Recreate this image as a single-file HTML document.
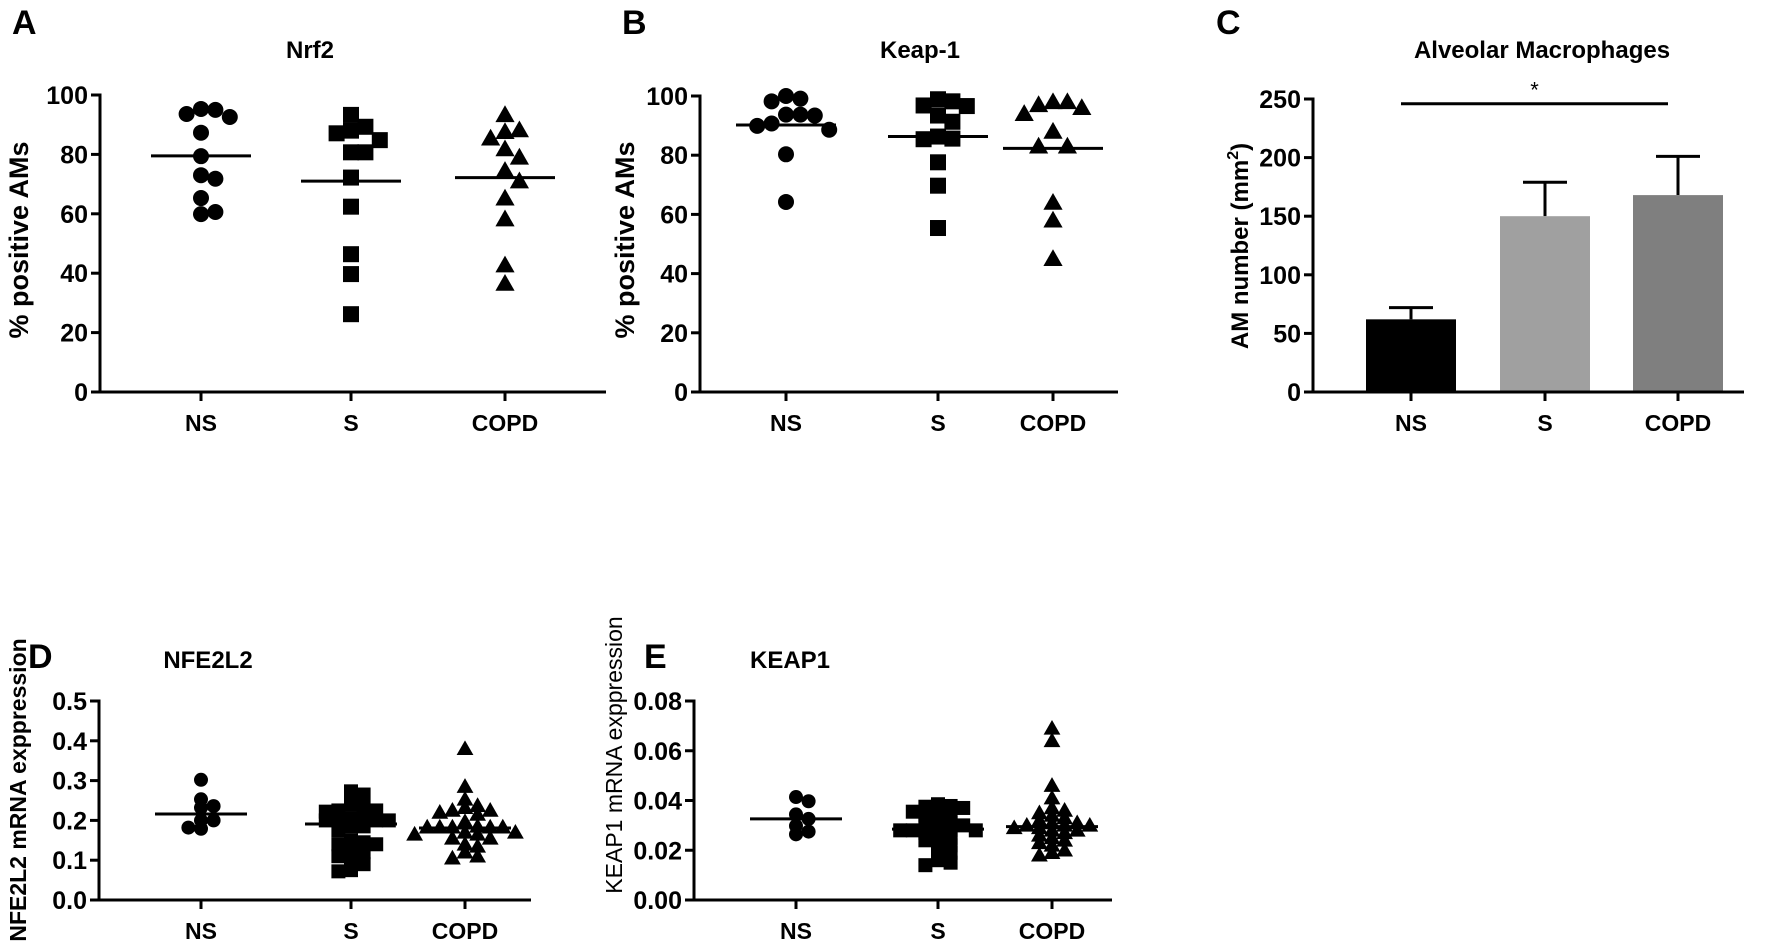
<!DOCTYPE html>
<html><head><meta charset="utf-8">
<style>
html,body{margin:0;padding:0;background:#fff;}
svg{display:block;font-family:"Liberation Sans",Arial,sans-serif;}
</style></head>
<body>
<svg id="fig" width="1770" height="941" viewBox="0 0 1770 941" xmlns="http://www.w3.org/2000/svg"></svg>
<script>
const groups = ["NS","S","COPD"];
// Panel A: Nrf2 (% positive AMs)
const nrf2NS = [95,95.3,92.6,93.6,87.3,79.4,73,71.8,65.3,59.9,60.6];
const nrf2S = [93.3,89.3,87.1,88,84.8,80.7,80.7,72.2,62.4,46.4,39.7,26.2];
const nrf2COPD = [93.3,85.4,87.6,88.2,81.8,79,74.5,71,65.2,58.2,42.7,36.5];
const nrf2Median = [79.5,71,72.2];
// Panel B: Keap-1
const keapNS = [100,98.2,99.1,93.7,93.7,93.4,89.9,90.7,88.6,80.3,64.2];
const keapS = [98.9,96.6,96.8,93.4,98.2,91.3,86.3,85.4,85.6,77.6,69.7,55.4];
const keapCOPD = [96,98,98,97,94,88,83,83,64,58,45];
const keapMedian = [90.2,86.3,82.3];
// Panel C: AM number
const amMean = [62,150,168];
const amErr = [72,179,201];
const amColors = ["#000000","#a0a0a0","#7f7f7f"];
const amSig = 246;
// Panel D: NFE2L2 mRNA
const nfeNS = [0.302,0.236,0.253,0.232,0.2,0.2,0.179,0.182];
const nfeS = [0.273,0.265,0.24,0.23,0.225,0.222,0.225,0.205,0.2,0.2,0.205,0.2,0.2,0.185,0.185,0.175,0.145,0.15,0.14,0.14,0.125,0.12,0.11,0.1,0.09,0.075,0.072];
const nfeCOPD = [0.38,0.285,0.253,0.237,0.232,0.225,0.225,0.22,0.215,0.197,0.185,0.183,0.183,0.183,0.183,0.183,0.17,0.17,0.165,0.165,0.155,0.155,0.14,0.135,0.12,0.11,0.105];
const nfeMedian = [0.216,0.191,0.181];
// Panel E: KEAP1 mRNA
const kNS = [0.0397,0.0414,0.0344,0.0326,0.0298,0.0264,0.0275];
const kS = [0.0385,0.0375,0.037,0.0378,0.036,0.0355,0.035,0.034,0.032,0.031,0.030,0.030,0.029,0.028,0.028,0.028,0.028,0.027,0.026,0.025,0.024,0.023,0.022,0.020,0.019,0.016,0.015,0.014];
const kCOPD = [0.069,0.064,0.046,0.041,0.037,0.036,0.035,0.034,0.033,0.032,0.031,0.031,0.030,0.030,0.030,0.029,0.029,0.028,0.028,0.027,0.026,0.025,0.024,0.023,0.022,0.020,0.019,0.018];
const kMedian = [0.0326,0.0285,0.0295];

const NS="http://www.w3.org/2000/svg";
const svg=document.getElementById('fig');
function mk(tag,attrs,parent){const e=document.createElementNS(NS,tag);for(const k in attrs)e.setAttribute(k,attrs[k]);(parent||svg).appendChild(e);return e;}
function txt(s,attrs,parent){const e=mk('text',attrs,parent);e.textContent=s;return e;}

function axes(p){
  const g=mk('g',{});
  
  
  const y=v=>p.y0+(v-p.min)/(p.max-p.min)*(p.y1-p.y0);
  const L=txt(p.letter,{x:p.lx,y:p.ly,'font-size':34,'font-weight':'bold'},g);
  
  
  const T=txt(p.title,{x:p.tx,y:p.ty,'font-size':24,'font-weight':'bold','text-anchor':'middle'},g);
  
  
  const ya=mk('line',{x1:p.ax,x2:p.ax,y1:y(p.max)-1.5,y2:p.y0+1.5,stroke:'#000','stroke-width':3},g);
  
  
  const xa=mk('line',{x1:p.ax-9,x2:p.xend,y1:p.y0,y2:p.y0,stroke:'#000','stroke-width':3},g);
  
  
  p.ticks.forEach((t,i)=>{
    mk('line',{x1:p.ax-9,x2:p.ax,y1:y(t),y2:y(t),stroke:'#000','stroke-width':3},g);
    const tl=txt(p.tickLabels[i],{x:p.ax-12,y:y(t)+9,'font-size':25,'font-weight':'bold','text-anchor':'end'},g);
    
    
  });
  groups.forEach((c,i)=>{
    mk('line',{x1:p.cx[i],x2:p.cx[i],y1:p.y0,y2:p.y0+9,stroke:'#000','stroke-width':3},g);
    const cl=txt(c,{x:p.cx[i],y:p.y0+39,'font-size':23,'font-weight':'bold','text-anchor':'middle'},g);
    
    
  });
  if(p.ytitle){
    const yt=txt(p.ytitle,{x:0,y:0,'font-size':p.ytSize,'font-weight':p.ytBold?'bold':'normal','text-anchor':'middle',transform:`translate(${p.ytx},${p.yty}) rotate(-90)`},g);
    
    
  }
  return {g,y};
}

function marker(shape,x,y,s,g){
  let e;
  if(shape===0) e=mk('circle',{cx:x,cy:y,r:s/2,fill:'#000'},g);
  else if(shape===1) e=mk('rect',{x:x-s/2,y:y-s/2,width:s,height:s,fill:'#000'},g);
  else e=mk('polygon',{points:`${x},${y-s*0.6} ${x-s*0.6},${y+s*0.45} ${x+s*0.6},${y+s*0.45}`,fill:'#000'},g);
  return e;
}

function swarm(vals,y,cx,s,vf){
  const placed=[];const out=[];
  const order=vals.map((v,i)=>i).sort((a,b)=>vals[b]-vals[a]);
  order.forEach(i=>{
    const py=y(vals[i]);
    for(let k=0;k<40;k++){
      const off=(k===0?0:(k%2?1:-1)*Math.ceil(k/2))*s*0.9;
      const px=cx+off;
      if(!placed.some(q=>Math.abs(q[0]-px)<s*0.85&&Math.abs(q[1]-py)<s*vf)){placed.push([px,py]);out[i]=[px,py];break;}
    }
  });
  return out;
}

function scatter(p,sets,medians){
  const {g,y}=axes(p);
  sets.forEach((vals,gi)=>{
    const pts=swarm(vals,y,p.cx[gi],p.ms,p.vf);
    pts.forEach(pt=>{
      const m=marker(gi,pt[0],pt[1],p.ms,g);
      
      
    });
    const ml=mk('line',{x1:p.cx[gi]-p.mw,x2:p.cx[gi]+p.mw,y1:y(medians[gi]),y2:y(medians[gi]),stroke:'#000','stroke-width':3},g);
    
    
  });
}

scatter({id:'nrf2',letter:'A',lx:12,ly:34,title:'Nrf2',tx:310,ty:58,ax:100,xend:606,y0:392,y1:95,min:0,max:100,
  ticks:[0,20,40,60,80,100],tickLabels:['0','20','40','60','80','100'],cx:[201,351,505],
  ytitle:'% positive AMs',ytx:28,yty:240,ytBold:true,ytSize:27,ms:16,mw:50,vf:0.95},[nrf2NS,nrf2S,nrf2COPD],nrf2Median);
scatter({id:'keap1-protein',letter:'B',lx:622,ly:34,title:'Keap-1',tx:920,ty:58,ax:700,xend:1118,y0:392,y1:96,min:0,max:100,
  ticks:[0,20,40,60,80,100],tickLabels:['0','20','40','60','80','100'],cx:[786,938,1053],
  ytitle:'% positive AMs',ytx:634,yty:240,ytBold:true,ytSize:27,ms:16,mw:50,vf:0.95},[keapNS,keapS,keapCOPD],keapMedian);
scatter({id:'nfe2l2',letter:'D',lx:28,ly:668,title:'NFE2L2',tx:208,ty:668,ax:99,xend:531,y0:900,y1:701,min:0,max:0.5,
  ticks:[0,0.1,0.2,0.3,0.4,0.5],tickLabels:['0.0','0.1','0.2','0.3','0.4','0.5'],cx:[201,351,465],
  ytitle:'NFE2L2 mRNA exppression',ytx:26,yty:790,ytBold:true,ytSize:23,ms:14,mw:46,vf:0.55},[nfeNS,nfeS,nfeCOPD],nfeMedian);
scatter({id:'keap1-mrna',letter:'E',lx:644,ly:668,title:'KEAP1',tx:790,ty:668,ax:694,xend:1112,y0:900,y1:701,min:0,max:0.08,
  ticks:[0,0.02,0.04,0.06,0.08],tickLabels:['0.00','0.02','0.04','0.06','0.08'],cx:[796,938,1052],
  ytitle:'KEAP1 mRNA exppression',ytx:622,yty:755,ytBold:false,ytSize:23,ms:14,mw:46,vf:0.42},[kNS,kS,kCOPD],kMedian);

// Panel C bars
(function(){
  const p={id:'am',letter:'C',lx:1216,ly:34,title:'Alveolar Macrophages',tx:1542,ty:58,ax:1313,xend:1744,y0:392,y1:99,min:0,max:250,
    ticks:[0,50,100,150,200,250],tickLabels:['0','50','100','150','200','250'],cx:[1411,1545,1678],ytitle:''};
  const {g,y}=axes(p);
  const yt=txt('',{x:0,y:0,'font-size':24,'font-weight':'bold','text-anchor':'middle',transform:`translate(1248,246) rotate(-90)`},g);
  
  
  const t1=mk('tspan',{},yt);t1.textContent='AM number (mm';
  const t2=mk('tspan',{'font-size':16,dy:-10},yt);t2.textContent='2';
  const t3=mk('tspan',{dy:10},yt);t3.textContent=')';
  const bw=90;
  amMean.forEach((v,i)=>{
    const cx=p.cx[i];
    const eb=mk('line',{x1:cx,x2:cx,y1:y(v),y2:y(amErr[i]),stroke:'#000','stroke-width':3},g);
    
    
    mk('line',{x1:cx-22,x2:cx+22,y1:y(amErr[i]),y2:y(amErr[i]),stroke:'#000','stroke-width':3},g);
    const b=mk('rect',{x:cx-bw/2,y:y(v),width:bw,height:y(0)-y(v)-1.5,fill:amColors[i]},g);
    
    
  });
  const sl=mk('line',{x1:p.cx[0]-10,x2:p.cx[2]-10,y1:y(amSig),y2:y(amSig),stroke:'#000','stroke-width':3},g);
  
  
  const st=txt('*',{x:(p.cx[0]+p.cx[2])/2-10,y:y(amSig)-6,'font-size':22,'text-anchor':'middle'},g);
  
  
})();
</script>
</body></html>
